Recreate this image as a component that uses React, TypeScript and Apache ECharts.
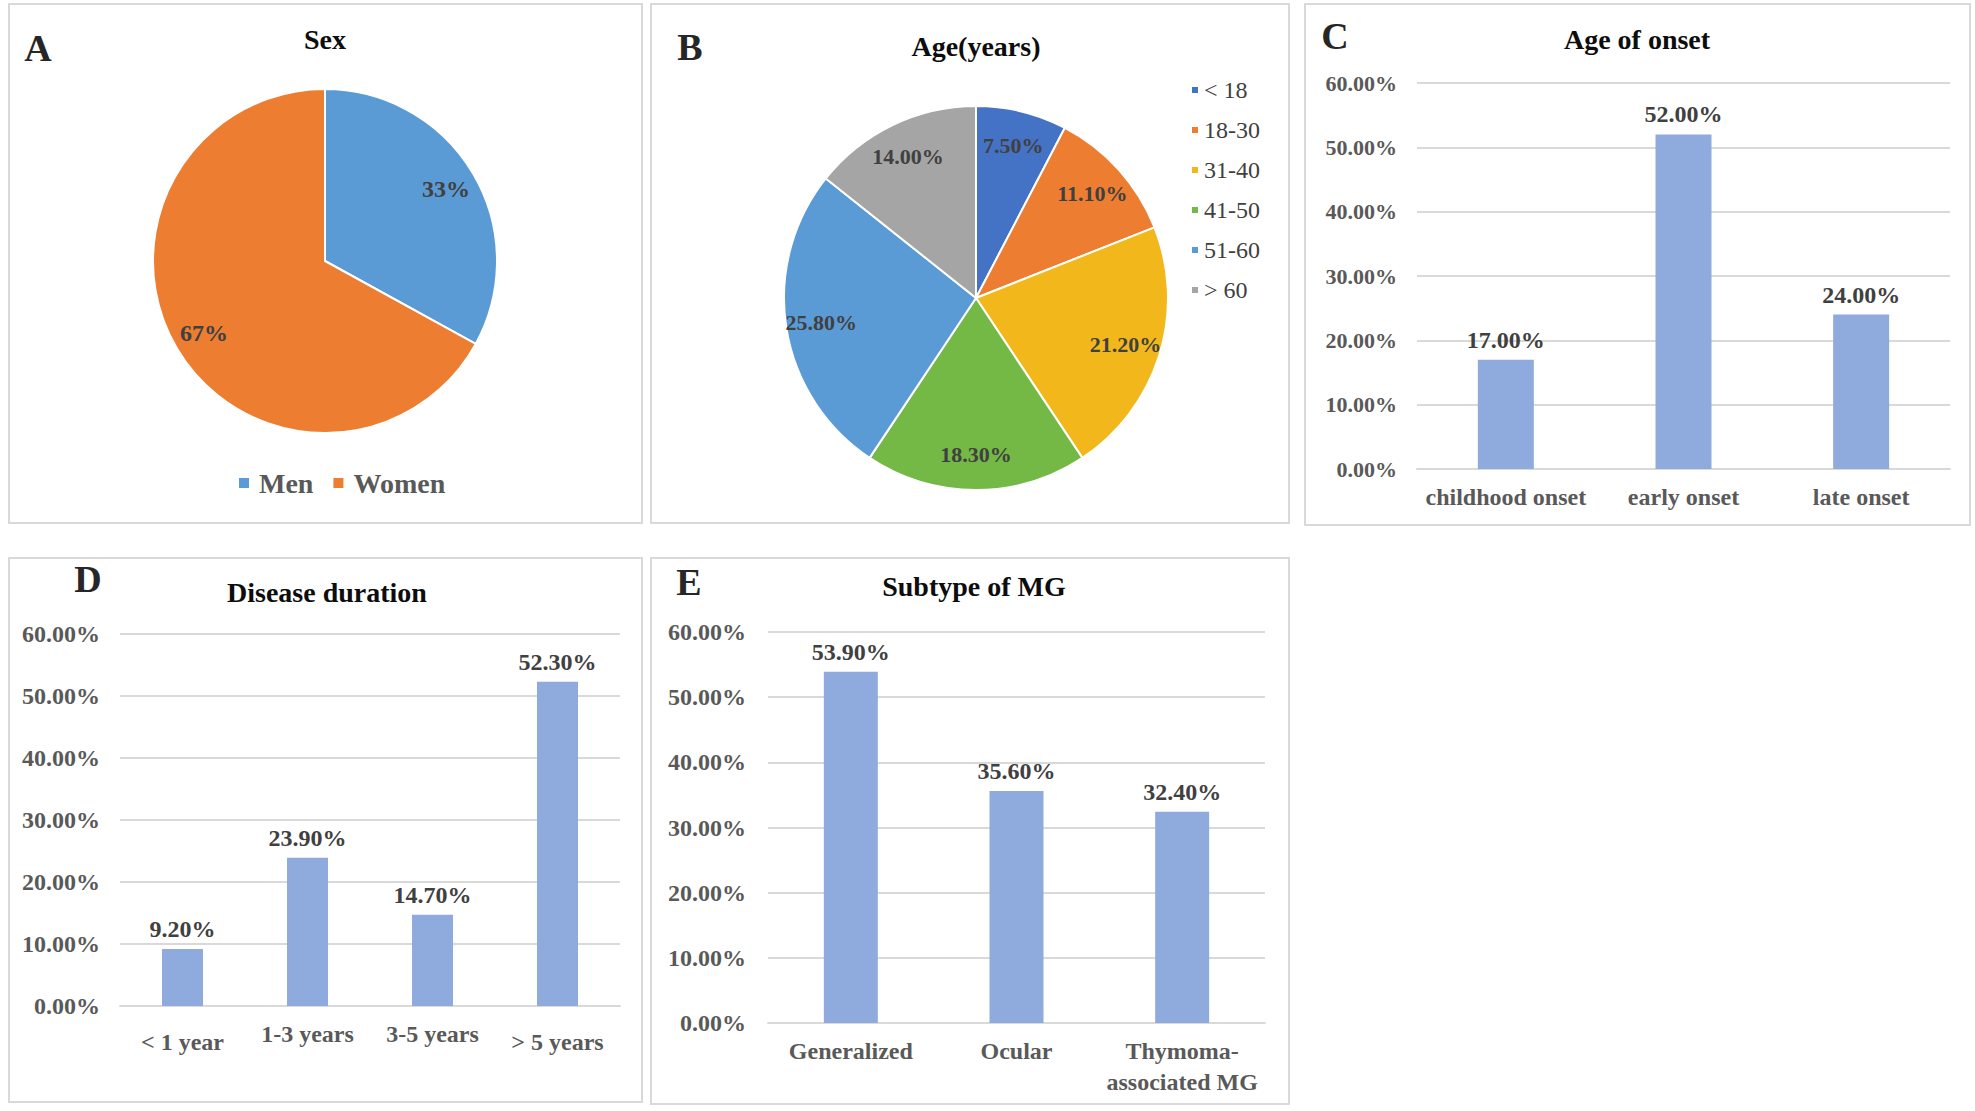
import React, { useEffect, useRef } from "react";
import * as echarts from "echarts";

// ---- Data ----
const sexNames = ["Men", "Women"];
const sexValues = [33, 67];
const sexColors = ["#5B9BD5", "#ED7D31"];

const ageNames = ["< 18", "18-30", "31-40", "41-50", "51-60", "> 60"];
const ageValues = [7.5, 11.1, 21.2, 18.3, 25.8, 14.0];
const ageColors = ["#4472C4", "#ED7D31", "#F2B81B", "#74B845", "#5B9BD5", "#A5A5A5"];

const onsetCats = ["childhood onset", "early onset", "late onset"];
const onsetValues = [17.0, 52.0, 24.0];

const durationCats = ["< 1 year", "1-3 years", "3-5 years", "> 5 years"];
const durationValues = [9.2, 23.9, 14.7, 52.3];
const durationLabelShift = [8, 0, 0, 8];

const subtypeCats = ["Generalized", "Ocular", "Thymoma-\nassociated MG"];
const subtypeValues = [53.9, 35.6, 32.4];

const yMax = 60;
const yInterval = 10;

const panelLetters = ["A", "B", "C", "D", "E"];
const panelTitles = ["Sex", "Age(years)", "Age of onset", "Disease duration", "Subtype of MG"];

const FONT = '"Liberation Serif", "Times New Roman", serif';
const BAR_COLOR = "#8FAADC";
const GRID_COLOR = "#D9D9D9";
const AXIS_TEXT = "#595959";
const LABEL_TEXT = "#404040";

export default function App() {
  const ref = useRef<HTMLDivElement>(null);

  useEffect(() => {
    if (!ref.current) return;
    const chart = echarts.init(ref.current, null, { renderer: "svg" });

    const pct = (v: number) => `${Number(v).toFixed(2)}%`;

    const panels = [
      { x: 9, y: 4, w: 633, h: 519 },
      { x: 651, y: 4, w: 638, h: 519 },
      { x: 1305, y: 4, w: 665, h: 521 },
      { x: 9, y: 558, w: 633, h: 544 },
      { x: 651, y: 558, w: 638, h: 546 },
    ];
    const letterPos = [
      [38, 48],
      [690, 47],
      [1335, 36],
      [88, 579],
      [689, 582],
    ];
    const titlePos = [
      [325, 39],
      [976, 46],
      [1637, 39],
      [327, 592],
      [974, 586],
    ];

    const graphics: any[] = [];
    panels.forEach((p) => {
      graphics.push({
        type: "rect",
        silent: true,
        shape: { x: p.x, y: p.y, width: p.w, height: p.h },
        style: { fill: "none", stroke: GRID_COLOR, lineWidth: 2 },
      });
    });
    panelLetters.forEach((t, i) => {
      graphics.push({
        type: "text",
        x: letterPos[i][0],
        y: letterPos[i][1],
        style: {
          text: t,
          fill: "#262626",
          fontSize: 38,
          fontWeight: "bold",
          fontFamily: FONT,
          textAlign: "center",
          textVerticalAlign: "middle",
        },
      });
    });
    panelTitles.forEach((t, i) => {
      graphics.push({
        type: "text",
        x: titlePos[i][0],
        y: titlePos[i][1],
        style: {
          text: t,
          fill: "#0d0d0d",
          fontSize: 28,
          fontWeight: "bold",
          fontFamily: FONT,
          textAlign: "center",
          textVerticalAlign: "middle",
        },
      });
    });

    const grids = [
      { left: 1417, top: 83, width: 533, height: 386 },
      { left: 120, top: 634, width: 500, height: 372 },
      { left: 768, top: 632, width: 497, height: 391 },
    ];

    const xCommon = {
      type: "category",
      axisTick: { show: false },
      axisLine: { lineStyle: { color: GRID_COLOR, width: 2 } },
    };
    const labelStyle = {
      color: AXIS_TEXT,
      fontSize: 24,
      fontWeight: "bold",
      fontFamily: FONT,
      interval: 0,
    };

    const xAxes = [
      { ...xCommon, gridIndex: 0, data: onsetCats, axisLabel: { ...labelStyle, margin: 16 } },
      {
        ...xCommon,
        gridIndex: 1,
        data: durationCats.map((c, i) => ({
          value: c,
          textStyle: { padding: [durationLabelShift[i], 0, 0, 0] },
        })),
        axisLabel: { ...labelStyle, margin: 16 },
      },
      {
        ...xCommon,
        gridIndex: 2,
        data: subtypeCats,
        axisLabel: { ...labelStyle, margin: 12, lineHeight: 31 },
      },
    ];

    const yAxes = [0, 1, 2].map((gi) => ({
      type: "value",
      gridIndex: gi,
      min: 0,
      max: yMax,
      interval: yInterval,
      axisLine: { show: false },
      axisTick: { show: false },
      splitLine: { lineStyle: { color: GRID_COLOR, width: 2 } },
      axisLabel: {
        formatter: (v: number) => pct(v),
        color: AXIS_TEXT,
        fontSize: gi === 0 ? 22 : 24,
        fontWeight: "bold",
        fontFamily: FONT,
        margin: gi === 2 ? 22 : 20,
      },
    }));

    const barSeries = (idx: number, values: number[], width: number) => ({
      type: "bar",
      xAxisIndex: idx,
      yAxisIndex: idx,
      data: values,
      barWidth: width,
      itemStyle: { color: BAR_COLOR },
      silent: true,
      label: {
        show: true,
        position: "top",
        distance: 8,
        formatter: (p: any) => pct(p.value),
        color: LABEL_TEXT,
        fontSize: 24,
        fontWeight: "bold",
        fontFamily: FONT,
      },
    });

    const pieBase = (center: number[], r: number, names: string[], values: number[], colors: string[]) => ({
      type: "pie",
      center,
      radius: [0, r],
      startAngle: 90,
      clockwise: true,
      silent: true,
      label: { show: false },
      labelLine: { show: false },
      itemStyle: { borderColor: "#ffffff", borderWidth: 2 },
      data: names.map((n, i) => ({ name: n, value: values[i], itemStyle: { color: colors[i] } })),
    });

    const pieLabels = (
      center: number[],
      r: number,
      names: string[],
      values: number[],
      fmt: (v: number) => string,
      size: number
    ) => ({
      type: "pie",
      center,
      radius: [r * 0.6, r],
      startAngle: 90,
      clockwise: true,
      silent: true,
      legendHoverLink: false,
      itemStyle: { color: "rgba(0,0,0,0)" },
      emphasis: { disabled: true },
      labelLine: { show: false },
      label: {
        show: true,
        position: "inside",
        formatter: (p: any) => fmt(p.value),
        color: LABEL_TEXT,
        fontSize: size,
        fontWeight: "bold",
        fontFamily: FONT,
      },
      data: names.map((n, i) => ({ name: n, value: values[i] })),
    });

    const option: any = {
      animation: false,
      backgroundColor: "#ffffff",
      grid: grids,
      xAxis: xAxes,
      yAxis: yAxes,
      legend: [
        {
          data: sexNames.map((n, i) => ({ name: n, itemStyle: { color: sexColors[i] } })),
          left: 232,
          top: 464,
          orient: "horizontal",
          icon: "rect",
          itemWidth: 12,
          itemHeight: 12,
          itemGap: 18,
          selectedMode: false,
          textStyle: {
            color: AXIS_TEXT,
            fontSize: 28,
            fontWeight: "bold",
            fontFamily: FONT,
            padding: [0, 0, 0, 4],
          },
        },
        {
          data: ageNames.map((n, i) => ({ name: n, itemStyle: { color: ageColors[i] } })),
          left: 1185,
          top: 73,
          orient: "vertical",
          icon: "rect",
          itemWidth: 8,
          itemHeight: 8,
          itemGap: 16,
          selectedMode: false,
          textStyle: {
            color: LABEL_TEXT,
            fontSize: 24,
            fontFamily: FONT,
          },
        },
      ],
      series: [
        pieBase([325, 261], 172, sexNames, sexValues, sexColors),
        pieLabels([325, 261], 172, sexNames, sexValues, (v) => `${v}%`, 24),
        pieBase([976, 298], 192, ageNames, ageValues, ageColors),
        pieLabels([976, 298], 192, ageNames, ageValues, (v) => pct(v), 22),
        barSeries(0, onsetValues, 56),
        barSeries(1, durationValues, 41),
        barSeries(2, subtypeValues, 54),
      ],
      graphic: { elements: graphics },
    };

    chart.setOption(option);
    return () => chart.dispose();
  }, []);

  return (
    <div
      ref={ref}
      style={{ position: "fixed", left: 0, top: 0, width: 1975, height: 1111, background: "#fff" }}
    />
  );
}
